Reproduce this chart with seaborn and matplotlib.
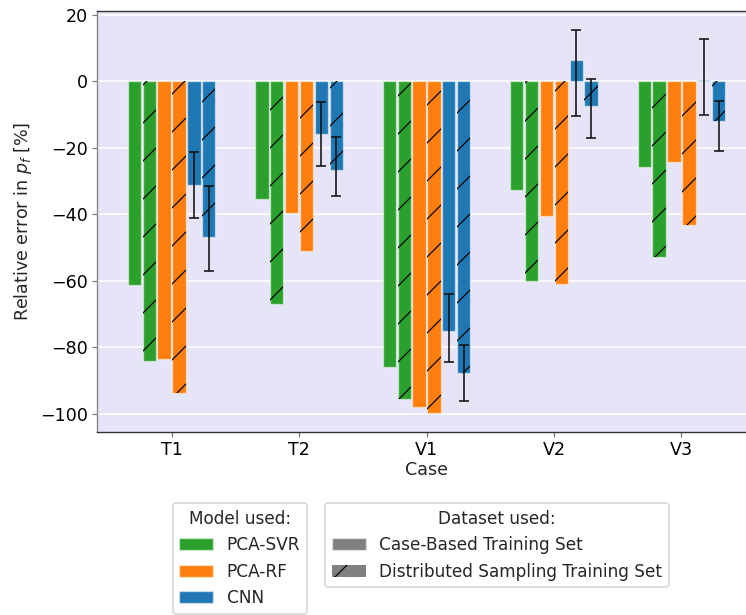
import matplotlib
matplotlib.use("Agg")
import matplotlib.pyplot as plt
from matplotlib.patches import Patch, Rectangle
import numpy as np
import pandas as pd
import seaborn as sns

# Cases and models
cases = ["T1", "T2", "V1", "V2", "V3"]
models = ["PCA-SVR", "PCA-RF", "CNN"]
datasets = ["Case-Based Training Set", "Distributed Sampling Training Set"]
model_colors = ["#2ca02c", "#ff7f0e", "#1f77b4"]

# Relative error in p_f [%] per case
svr_case = [-61.3, -35.3, -86.0, -32.7, -25.7]
svr_dist = [-84.3, -67.0, -95.5, -60.2, -53.0]
rf_case = [-83.6, -39.6, -98.1, -40.5, -24.3]
rf_dist = [-93.9, -51.1, -99.8, -61.1, -43.4]
cnn_case = [-31.2, -15.9, -75.1, 6.5, 0.3]
cnn_dist = [-46.8, -26.8, -87.8, -7.3, -12.0]

# CNN spread (lower / upper bound) over repeated trainings
cnn_case_lo = [-41.0, -25.6, -84.4, -10.3, -10.2]
cnn_case_hi = [-21.4, -6.2, -64.0, 15.4, 12.6]
cnn_dist_lo = [-57.2, -34.4, -96.3, -17.2, -21.1]
cnn_dist_hi = [-31.6, -16.9, -79.4, 0.7, -5.9]

DPI = 114
FS = 11.05
sns.set_theme(style="white")
plt.rcParams.update({
    "font.family": ["DejaVu Sans"],
    "font.size": FS,
    "axes.labelsize": FS,
    "xtick.labelsize": FS,
    "ytick.labelsize": FS,
    "legend.fontsize": 10.67,
    "legend.title_fontsize": 10.67,
    "hatch.linewidth": 0.75,
    "hatch.color": "black",
})

series = [svr_case, svr_dist, rf_case, rf_dist, cnn_case, cnn_dist]
groups = [f"{m} | {d}" for m in models for d in datasets]
rows = []
for g, vals in zip(groups, series):
    for c, v in zip(cases, vals):
        rows.append({"Case": c, "group": g, "value": v})
df = pd.DataFrame(rows)
palette = {g: model_colors[i // 2] for i, g in enumerate(groups)}

fig = plt.figure(figsize=(746 / DPI, 615 / DPI), dpi=DPI)
ax = fig.add_axes([97 / 746, 183 / 615, 659 / 746, 421 / 615])
ax.set_facecolor("#e5e5f7")

edge_light = (1, 1, 1, 0.5)
sns.barplot(data=df, x="Case", y="value", hue="group", hue_order=groups,
            order=cases, palette=palette, saturation=1, width=0.7, gap=0.1,
            errorbar=None, legend=False, edgecolor=edge_light,
            linewidth=0.88, ax=ax, zorder=2)

# hatch the distributed-sampling bars
containers = list(ax.containers)
for i, cont in enumerate(containers):
    if i % 2 == 1:
        for p in cont.patches:
            ax.add_patch(Rectangle(p.get_xy(), p.get_width(), p.get_height(),
                                   fill=False, hatch="/", edgecolor="black",
                                   linewidth=0, zorder=2.5))

# CNN spread as error bars
for cont, vals, lo, hi in [(containers[4], cnn_case, cnn_case_lo, cnn_case_hi),
                           (containers[5], cnn_dist, cnn_dist_lo, cnn_dist_hi)]:
    xs = [p.get_x() + p.get_width() / 2 for p in cont.patches]
    v = np.array(vals)
    yerr = [v - np.array(lo), np.array(hi) - v]
    ax.errorbar(xs, v, yerr=yerr, fmt="none", ecolor="#111111",
                elinewidth=1.0, capsize=3.4, capthick=1.0, zorder=3)

ax.set_xlim(-0.585, 4.585)
ax.autoscale(axis="y")
ax.margins(y=0.05)

ax.yaxis.grid(True, color="white", linewidth=0.95, zorder=0)
ax.set_axisbelow(True)
ax.set_xlabel("Case", labelpad=1.35)
ax.set_ylabel("Relative error in $p_f$ [%]", labelpad=4)
ax.tick_params(axis="both", which="both", length=3.0, width=0.75,
               color="#777777", labelcolor="black", pad=2.7,
               bottom=True, left=True)
for side in ["top", "bottom"]:
    ax.spines[side].set_color("#333333")
    ax.spines[side].set_linewidth(0.88)
ax.spines["left"].set_color("#888888")
ax.spines["left"].set_linewidth(0.88)
ax.spines["right"].set_visible(False)

model_handles = [Patch(facecolor=c, edgecolor=edge_light, linewidth=0.88, label=m)
                 for m, c in zip(models, model_colors)]
data_handles = [Patch(facecolor="#808080", edgecolor=edge_light, linewidth=0.88,
                      label=datasets[0]),
                Patch(facecolor="#808080", edgecolor="black", linewidth=0,
                      hatch="/", label=datasets[1])]
leg1 = fig.legend(handles=model_handles, title="Model used:", loc="upper left",
                  bbox_to_anchor=(172.7 / 746, 1 - 503 / 615), borderaxespad=0)
leg2 = fig.legend(handles=data_handles, title="Dataset used:", loc="upper left",
                  bbox_to_anchor=(325 / 746, 1 - 503 / 615), borderaxespad=0)

fig.savefig("out.png", dpi=DPI)
